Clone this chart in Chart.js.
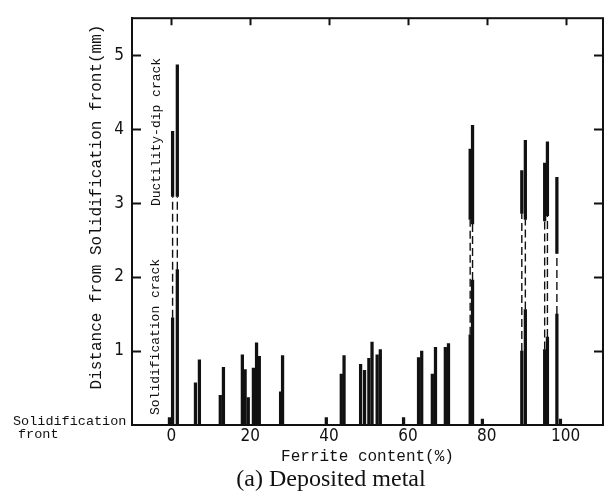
<!DOCTYPE html>
<html>
<head>
<meta charset="utf-8">
<script src="https://cdn.jsdelivr.net/npm/chart.js@4"></script>
<style>
  html, body { margin: 0; padding: 0; background: #fff; }
  canvas { display: block; }
</style>
</head>
<body>
<canvas id="chartGrietas" width="608" height="495"></canvas>
<script>
// tick labels
const X_TICKS = [0, 20, 40, 60, 80, 100];
const Y_TICKS = [1, 2, 3, 4, 5];

// solidification crack: ferrite content (%) and length from front (mm)
const solidX = [-0.5, 0.3, 1.5, 6.1, 7.1, 12.4, 13.2, 18.0, 18.7, 19.5, 20.8, 21.6, 22.3, 27.7, 28.2, 39.3, 43.1, 43.8,
  48.0, 49.0, 50.1, 50.9, 52.2, 53.0, 58.9, 62.7, 63.5, 66.2, 67.0, 69.5, 70.3, 75.8, 76.4, 78.9, 88.9, 89.8, 94.7, 95.4, 97.8, 98.7];
const solidLen = [0.1, 1.45, 2.1, 0.57, 0.88, 0.4, 0.78, 0.95, 0.75, 0.37, 0.77, 1.11, 0.93, 0.45, 0.94, 0.1, 0.69, 0.94,
  0.82, 0.74, 0.9, 1.12, 0.95, 1.02, 0.1, 0.91, 1.0, 0.69, 1.05, 1.05, 1.1, 1.22, 1.96, 0.08, 1.0, 1.56, 1.02, 1.19, 1.5, 0.08];

// ductility-dip crack: ferrite content (%), lower and upper distance (mm)
const dipX = [0.3, 1.5, 75.8, 76.4, 88.9, 89.8, 94.7, 95.4, 97.8];
const dipLow = [3.09, 3.09, 2.78, 2.72, 2.86, 2.78, 2.76, 2.83, 2.32];
const dipHigh = [3.97, 4.87, 3.73, 4.05, 3.44, 3.85, 3.54, 3.83, 3.35];

const MONO = '"Liberation Mono", "DejaVu Sans Mono", monospace';
const NARROW = '"DejaVu Sans Condensed", "Liberation Sans Narrow", "DejaVu Sans", sans-serif';
const INK = "#111";

// dashed connector between the two cracks of the same specimen
const dashData = [];
dipX.forEach(function (x, i) {
  const top = solidLen[solidX.indexOf(x)];
  dashData.push({ x: x, y: top }, { x: x, y: dipLow[i] }, { x: x, y: null });
});

const marcoPlugin = {
  id: "marco",
  afterDraw(chart) {
    const { ctx, chartArea: a, scales } = chart;
    ctx.save();
    ctx.strokeStyle = INK;
    ctx.lineWidth = 2;
    ctx.strokeRect(a.left, a.top, a.right - a.left, a.bottom - a.top);
    // inward ticks: left, right and top
    ctx.beginPath();
    Y_TICKS.forEach(function (v) {
      const py = Math.round(scales.y.getPixelForValue(v)) + 0.5;
      ctx.moveTo(a.left, py); ctx.lineTo(a.left + 9, py);
      ctx.moveTo(a.right, py); ctx.lineTo(a.right - 9, py);
    });
    X_TICKS.forEach(function (v) {
      const px = Math.round(scales.x.getPixelForValue(v)) + 0.5;
      ctx.moveTo(px, a.top); ctx.lineTo(px, a.top + 7);
    });
    ctx.stroke();

    ctx.fillStyle = INK;
    ctx.font = "13.5px " + MONO;
    ctx.textBaseline = "middle";
    ctx.textAlign = "left";
    ctx.fillText("Solidification", 13, a.bottom - 4);
    ctx.fillText("front", 18, a.bottom + 9);

    ctx.textAlign = "center";
    ctx.font = "13px " + MONO;
    ctx.save();
    ctx.translate(157, 132);
    ctx.rotate(-Math.PI / 2);
    ctx.fillText("Ductility-dip crack", 0, 0);
    ctx.restore();
    ctx.save();
    ctx.translate(156, 337);
    ctx.rotate(-Math.PI / 2);
    ctx.fillText("Solidification crack", 0, 0);
    ctx.restore();

    // y-axis title, a little above the middle of the axis
    ctx.font = "16px " + MONO;
    ctx.save();
    ctx.translate(97, 207);
    ctx.rotate(-Math.PI / 2);
    ctx.fillText("Distance from Solidification front(mm)", 0, 0);
    ctx.restore();

    ctx.font = '24px "Liberation Serif", "Times New Roman", serif';
    ctx.fillText("(a) Deposited metal", 331, 480);
    ctx.restore();
  }
};

new Chart(document.getElementById("chartGrietas"), {
  type: "bar",
  data: {
    datasets: [
      {
        label: "Solidification crack",
        data: solidX.map(function (x, i) { return { x: x, y: [0, solidLen[i]] }; }),
        backgroundColor: INK,
        barThickness: 2.6,
        grouped: false
      },
      {
        label: "Ductility-dip crack",
        data: dipX.map(function (x, i) { return { x: x, y: [dipLow[i], dipHigh[i]] }; }),
        backgroundColor: INK,
        barThickness: 2.6,
        grouped: false
      },
      {
        type: "line",
        label: "conexion",
        data: dashData,
        borderColor: INK,
        borderWidth: 1.4,
        borderDash: [8, 4],
        pointRadius: 0,
        spanGaps: false
      }
    ]
  },
  options: {
    responsive: false,
    animation: false,
    layout: { padding: { left: 0, right: 5, top: 9, bottom: 0 } },
    plugins: { legend: { display: false }, tooltip: { enabled: false } },
    scales: {
      x: {
        type: "linear",
        min: -10,
        max: 109.5,
        offset: false,
        afterBuildTicks: function (s) { s.ticks = X_TICKS.map(function (v) { return { value: v }; }); },
        afterFit: function (s) { s.height = 70; },
        grid: { display: true, drawOnChartArea: false, drawTicks: false },
        border: { display: true, color: INK, width: 2 },
        ticks: { color: INK, padding: 1, maxRotation: 0, font: { family: NARROW, size: 17 } },
        title: {
          display: true,
          text: "Ferrite content(%)",
          color: INK,
          font: { family: MONO, size: 16 },
          padding: { top: 0, bottom: 29 }
        }
      },
      y: {
        min: 0,
        max: 5.5,
        afterBuildTicks: function (s) { s.ticks = Y_TICKS.map(function (v) { return { value: v }; }); },
        afterFit: function (s) { s.width = 132; },
        grid: { display: true, drawOnChartArea: false, drawTicks: false },
        border: { display: true, color: INK, width: 2 },
        ticks: { color: INK, padding: 8, font: { family: NARROW, size: 17 } },
        title: { display: false }
      }
    }
  },
  plugins: [marcoPlugin]
});
</script>
</body>
</html>
